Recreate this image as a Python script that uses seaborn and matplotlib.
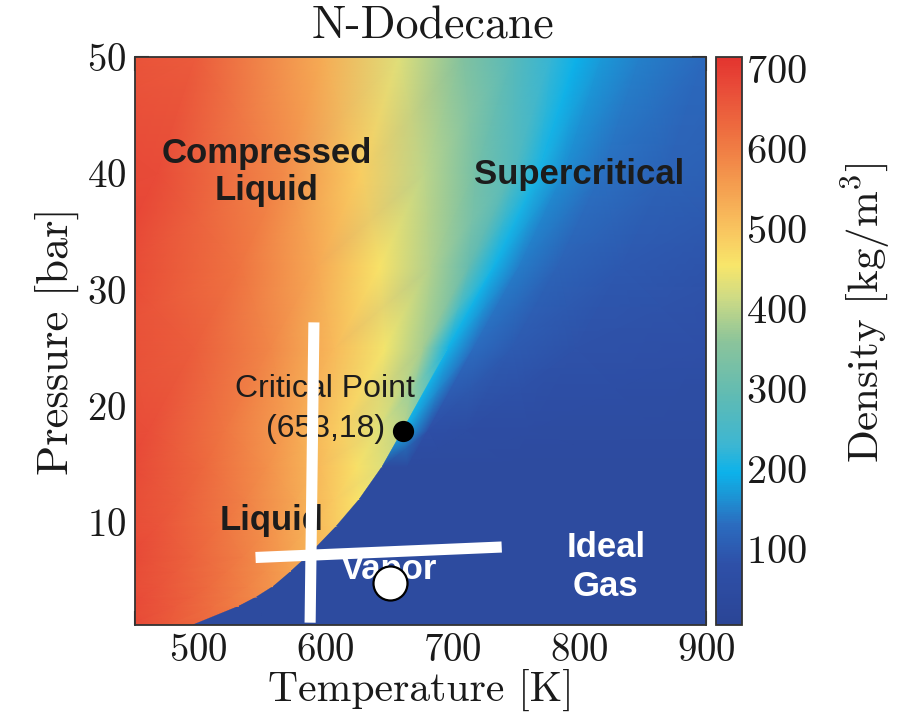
import numpy as np
import matplotlib
matplotlib.use("Agg")
import matplotlib.pyplot as plt
import seaborn as sns
from matplotlib.colors import LinearSegmentedColormap, Normalize
from matplotlib.ticker import MultipleLocator

# liquid/vapour saturation curve, continued above the critical point along the
# pseudo-critical ridge (light blue band)
boundary_T = [496, 532, 546, 559, 573, 586, 609, 627, 645, 661, 697, 733, 768, 798]
boundary_P = [1.2, 2.8, 3.6, 4.5, 5.8, 7.1, 9.7, 12.0, 14.8, 17.9, 25.0, 32.0, 40.0, 50.0]

# temperature offsets from that curve at which the density was read
# (0 appears twice: liquid side, then vapour side of the curve)
offset_T = [-450, -300, -200, -140, -90, -50, -20, 0, 0, 20, 50, 100, 200, 420]

# density [kg/m^3], one row per boundary point, one column per offset
density = [
    [690, 690, 690, 690, 690, 682, 656, 638, 45, 45, 45, 45, 45, 45],
    [690, 690, 690, 690, 685, 652, 620, 600, 45, 45, 45, 45, 45, 45],
    [690, 690, 690, 690, 675, 640, 606, 582, 45, 45, 45, 45, 45, 45],
    [690, 690, 690, 690, 663, 625, 592, 568, 45, 45, 45, 45, 45, 45],
    [690, 690, 690, 690, 651, 610, 576, 548, 45, 45, 45, 45, 45, 45],
    [690, 690, 690, 683, 639, 596, 558, 528, 45, 45, 45, 45, 45, 45],
    [690, 690, 690, 663, 614, 568, 523, 490, 45, 45, 45, 45, 45, 45],
    [690, 690, 690, 647, 595, 542, 493, 457, 45, 45, 45, 45, 45, 46],
    [690, 690, 684, 630, 573, 513, 460, 428, 45, 45, 45, 45, 46, 48],
    [690, 690, 672, 612, 551, 487, 434, 400, 200, 75, 60, 55, 52, 50],
    [690, 690, 648, 585, 515, 450, 380, 200, 200, 130, 100, 85, 75, 68],
    [690, 690, 615, 540, 458, 390, 300, 200, 200, 145, 115, 98, 85, 78],
    [690, 678, 580, 485, 400, 325, 272, 205, 205, 160, 135, 115, 100, 92],
    [690, 652, 533, 432, 345, 278, 225, 195, 195, 170, 148, 125, 108, 100],
]

density_ticks = [100, 200, 300, 400, 500, 600, 700]

# overlay marks
critical_T, critical_P = 661, 17.9
marked_T, marked_P = 651, 4.8
vline_T, vline_P = [591, 588], [27.2, 1.4]
hline_T, hline_P = [545, 739], [7.0, 7.9]

# colour scale as printed next to the map
cmap_stops = [5, 80, 130, 170, 195, 230, 290, 360, 415, 455, 500, 560, 620, 680, 715]
cmap_hex = ["#2b4596", "#2e50a8", "#2b6cbf", "#1a9ad8", "#0cb2ea", "#3db6d2",
            "#5fbbb4", "#8cc49a", "#cfdb84", "#f8e66a", "#f9c45f", "#f49a4e",
            "#ee7040", "#e84a38", "#e3342f"]

sns.set_theme(style="ticks")
plt.rcParams["font.family"] = ["cmr10", "DejaVu Serif"]
plt.rcParams["mathtext.fontset"] = "cm"
plt.rcParams["axes.formatter.use_mathtext"] = True
plt.rcParams["axes.unicode_minus"] = False

vmin, vmax = cmap_stops[0], cmap_stops[-1]
cmap = LinearSegmentedColormap.from_list(
    "dodecane", [((v - vmin) / (vmax - vmin), c) for v, c in zip(cmap_stops, cmap_hex)])
norm = Normalize(vmin=vmin, vmax=vmax)

fig = plt.figure(figsize=(8.98, 7.21), dpi=100)
ax = fig.add_axes([135 / 898, 1 - 625 / 721, 571 / 898, 568 / 721])
cax = fig.add_axes([716 / 898, 1 - 625 / 721, 26 / 898, 568 / 721])

# curvilinear mesh that follows the saturation curve / ridge
T = np.asarray(boundary_T, float)[:, None] + np.asarray(offset_T, float)[None, :]
P = np.repeat(np.asarray(boundary_P, float)[:, None], len(offset_T), axis=1)
mesh = ax.pcolormesh(T, P, np.asarray(density, float), cmap=cmap, norm=norm,
                     shading="gouraud", rasterized=True)

ax.set_xlim(450, 900)
ax.set_ylim(1.2, 50)
ax.xaxis.set_major_locator(MultipleLocator(100))
ax.xaxis.set_minor_locator(MultipleLocator(50))
ax.yaxis.set_major_locator(MultipleLocator(10))
ax.yaxis.set_minor_locator(MultipleLocator(5))
ax.tick_params(which="both", direction="in", top=True, right=True, length=10,
               width=1.5, color="#2a2a2a", labelsize=28, pad=6, labelcolor="#1a1a1a")
for s in ax.spines.values():
    s.set_linewidth(1.3)
    s.set_color("#333333")

ax.set_xlabel("Temperature [K]", fontsize=30, color="#1a1a1a", labelpad=0)
ax.set_ylabel("Pressure [bar]", fontsize=32, color="#1a1a1a", labelpad=6)
ax.text(0.522, 1.053, "N-Dodecane", transform=ax.transAxes, ha="center", va="center",
        fontsize=33, color="#1a1a1a")

# overlays
ax.plot(vline_T, vline_P, color="white", lw=8, solid_capstyle="butt", zorder=4)
ax.plot(hline_T, hline_P, color="white", lw=8, solid_capstyle="butt", zorder=4)
sns.scatterplot(x=[critical_T], y=[critical_P], ax=ax, s=200, color="black",
                edgecolor="black", zorder=5, legend=False)
sns.scatterplot(x=[marked_T], y=[marked_P], ax=ax, s=600, color="white",
                edgecolor="black", linewidth=1.6, zorder=5, legend=False)

bold = dict(family=["Liberation Sans", "DejaVu Sans"], fontweight="bold",
            fontsize=25, ha="center", va="center")
ax.text(554, 40.1, "Compressed\nLiquid", color="#1c1c1c", linespacing=1.15, **bold)
ax.text(800, 39.9, "Supercritical", color="#1c1c1c", **bold)
ax.text(558, 10.2, "Liquid", color="#1c1c1c", zorder=3, **bold)
ax.text(650, 6.0, "Vapor", color="white", zorder=3, **bold)
ax.text(821, 6.2, "Ideal\nGas", color="white", linespacing=1.25, **bold)
plain = dict(family=["Liberation Sans", "DejaVu Sans"], fontsize=23,
             ha="center", va="center", color="#1c1c1c")
ax.text(600, 21.5, "Critical Point", zorder=3, **plain)
ax.text(600, 18.0, "(653,18)", zorder=3, **plain)

cbar = fig.colorbar(mesh, cax=cax)
cbar.set_ticks(density_ticks)
cbar.outline.set_linewidth(1.3)
cbar.outline.set_edgecolor("#333333")
cax.tick_params(direction="in", left=True, right=True, length=10, width=1.5,
                color="#2a2a2a", labelsize=29, pad=3, labelcolor="#1a1a1a")
cbar.set_label("Density [kg/m$^3$]", fontsize=31, color="#1a1a1a")
cax.yaxis.set_label_coords(4.75, 0.55)

fig.savefig("out.png", dpi=100)
